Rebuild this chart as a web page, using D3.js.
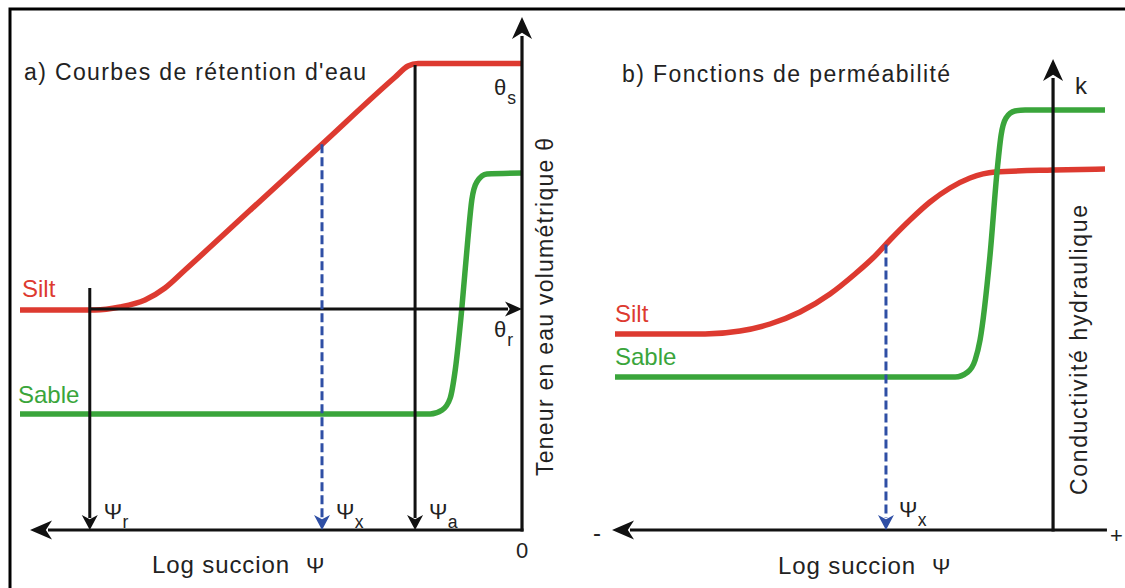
<!DOCTYPE html>
<html><head><meta charset="utf-8">
<script src="https://cdn.jsdelivr.net/npm/d3@7"></script>
<style>body{margin:0;background:#fff}svg{display:block}</style>
</head><body>
<svg id="chart" width="1125" height="588"></svg>
<script>
// ---------- DATA (schematic units: x = position along log-suction axis 0..100, y = 0..100) ----------
// Panel a) water retention curves
const retentionSiltX     = [0, 14.94, 19.92, 24.9, 28.88, 32.87, 45.82, 60.16, 74.7, 77.29, 79.28, 100];
const retentionSiltTheta = [44, 44, 44.6, 46, 48.4, 52, 63.94, 77.16, 90.56, 92.8, 93.3, 93.3];
const retentionSableX     = [0, 81.7, 84.1, 85.7, 86.7, 88.0, 89.2, 90.0, 91.0, 93.0, 100];
const retentionSableTheta = [23.2, 23.2, 24, 26.4, 32, 44.2, 58, 66, 69.6, 71.2, 71.4];
const thetaR = 44.2;
const psiNames = ["r", "x", "a"];
const psiX     = [13.9, 60.16, 78.7];
const psiTop   = [48.4, 77.16, 93.0];
// Panel b) permeability functions
const permSiltX  = [0, 18.37, 25.51, 31.63, 37.76, 43.88, 48.98, 53.06, 56.12, 60.2, 64.29, 68.37, 72.45, 77.55, 89.39, 100];
const permSiltK  = [39.2, 39.2, 39.8, 41.2, 43.6, 47.2, 51.2, 54.8, 58, 62, 65.6, 68.4, 70.4, 71.6, 72, 72.2];
const permSableX = [0, 69.4, 72, 73.5, 74.5, 76.5, 78, 78.8, 79.8, 81.6, 83.7, 100];
const permSableK = [30.6, 30.6, 31.6, 34, 38, 54.6, 72, 79, 82.4, 83.8, 84, 84];
const permPsiX = 55.3, permPsiTop = 57.1;
const permAxisX = 89.4;
// Texts
const titleA = "a) Courbes de rétention d'eau";
const titleB = "b) Fonctions de perméabilité";
const xAxisLabel = "Log succion";
const yLabelA = "Teneur en eau volumétrique  θ";
const yLabelB = "Conductivité hydraulique";
const seriesNames = ["Silt", "Sable"];

// ---------- STYLE ----------
const RED = "#dd3a30", GREEN = "#3aa53b", BLUE = "#2f4fa5", BLACK = "#111";
const FONT = "'Liberation Sans', Arial, Helvetica, sans-serif";

const svg = d3.select("#chart");
svg.append("rect").attr("width",1125).attr("height",588).attr("fill","#fff");
// frame
svg.append("path").attr("d","M10,588V9H1125").attr("fill","none").attr("stroke","#000").attr("stroke-width",3);

const xA = d3.scaleLinear().domain([0,100]).range([20,522]);
const xB = d3.scaleLinear().domain([0,100]).range([615,1105]);
const y  = d3.scaleLinear().domain([0,100]).range([530,30]);

function arrowHead(g, tipX, tipY, dir, L, W, color){
  const n = L*0.72;
  g.append("path")
    .attr("d",`M0,0L${-L},${-W/2}L${-n},0L${-L},${W/2}Z`)
    .attr("transform",`translate(${tipX},${tipY}) rotate(${dir})`)
    .attr("fill",color);
}
function line(g, x1,y1,x2,y2,color,w,dash){
  const l = g.append("line").attr("x1",x1).attr("y1",y1).attr("x2",x2).attr("y2",y2)
    .attr("stroke",color).attr("stroke-width",w);
  if(dash) l.attr("stroke-dasharray",dash);
  return l;
}
function txt(g, x, yy, s, size, color, opts={}){
  const t = g.append("text").attr("x",x).attr("y",yy).text(s)
    .attr("font-family",FONT).attr("font-size",size).attr("fill",color||"#222");
  if(opts.anchor) t.attr("text-anchor",opts.anchor);
  if(opts.len) t.attr("textLength",opts.len).attr("lengthAdjust","spacing");
  if(opts.rot) t.attr("transform",`rotate(-90,${x},${yy})`);
  return t;
}
function subLabel(g, x, yy, main, sub, size, k){
  txt(g, x, yy, main, size, "#222");
  txt(g, x+size*(k||0.85), yy+size*0.4, sub, size*0.8, "#222");
}

// ---------- PANEL A ----------
const gA = svg.append("g");
const curve = d3.line().curve(d3.curveMonotoneX);
gA.append("path").attr("d", curve(retentionSiltX.map((v,i)=>[xA(v), y(retentionSiltTheta[i])])))
  .attr("fill","none").attr("stroke",RED).attr("stroke-width",5.5);
gA.append("path").attr("d", curve(retentionSableX.map((v,i)=>[xA(v), y(retentionSableTheta[i])])))
  .attr("fill","none").attr("stroke",GREEN).attr("stroke-width",5.5);

// axes
const axX = xA(100), axY = y(0);
line(gA, axX, axY+1.5, axX, 36, BLACK, 3.2);
arrowHead(gA, axX, 17, -90, 22, 20, BLACK);
line(gA, axX+1.5, axY, 48, axY, BLACK, 3.2);
arrowHead(gA, 30, axY, 180, 22, 19, BLACK);
// theta_r arrow
line(gA, xA(psiX[0]), y(thetaR), axX-14, y(thetaR), BLACK, 3);
arrowHead(gA, axX, y(thetaR), 0, 17, 15, BLACK);
// psi lines
psiX.forEach((px,i)=>{
  const c = psiNames[i]==="x" ? BLUE : BLACK;
  line(gA, xA(px), y(psiTop[i]), xA(px), axY-12, c, 3, psiNames[i]==="x" ? "9,4" : null);
  arrowHead(gA, xA(px), axY, 90, 15, 16, c);
  subLabel(gA, xA(px)+14, axY-11, "Ψ", psiNames[i], 22);
});
// labels
subLabel(gA, 494, 95, "θ", "s", 22, 0.6);
subLabel(gA, 494, 337, "θ", "r", 22, 0.6);
txt(gA, axX, axY+28, "0", 22, "#222", {anchor:"middle"});
txt(gA, 24, 80, titleA, 23, "#222", {len:342});
txt(gA, 152, 573, xAxisLabel, 24, "#222", {len:137});
txt(gA, 306, 573, "Ψ", 22, "#222");
txt(gA, 553, 476, yLabelA, 23, "#222", {rot:true, len:338});
txt(gA, 22, 297, seriesNames[0], 24, RED);
txt(gA, 18, 403, seriesNames[1], 24, GREEN);

// ---------- PANEL B ----------
const gB = svg.append("g");
gB.append("path").attr("d", curve(permSiltX.map((v,i)=>[xB(v), y(permSiltK[i])])))
  .attr("fill","none").attr("stroke",RED).attr("stroke-width",5.5);
gB.append("path").attr("d", curve(permSableX.map((v,i)=>[xB(v), y(permSableK[i])])))
  .attr("fill","none").attr("stroke",GREEN).attr("stroke-width",5.5);
const bxX = xB(permAxisX);
line(gB, bxX, axY+1.5, bxX, 78, BLACK, 3.2);
arrowHead(gB, bxX, 59, -90, 22, 20, BLACK);
line(gB, xB(100.4), axY, 630, axY, BLACK, 3.2);
arrowHead(gB, 612, axY, 180, 22, 19, BLACK);
line(gB, xB(permPsiX), y(permPsiTop), xB(permPsiX), axY-12, BLUE, 3, "9,4");
arrowHead(gB, xB(permPsiX), axY, 90, 15, 16, BLUE);
subLabel(gB, xB(permPsiX)+13, axY-13, "Ψ", "x", 22);
txt(gB, 1075, 94, "k", 24, "#222");
txt(gB, 593, 541, "-", 24, "#222");
txt(gB, 1110, 543, "+", 22, "#222");
txt(gB, 622, 82, titleB, 23, "#222", {len:328});
txt(gB, 778, 574, xAxisLabel, 24, "#222", {len:137});
txt(gB, 932, 574, "Ψ", 22, "#222");
txt(gB, 1087, 495, yLabelB, 23, "#222", {rot:true, len:290});
txt(gB, 615, 322, seriesNames[0], 24, RED);
txt(gB, 615, 365, seriesNames[1], 24, GREEN);
</script>
</body></html>
